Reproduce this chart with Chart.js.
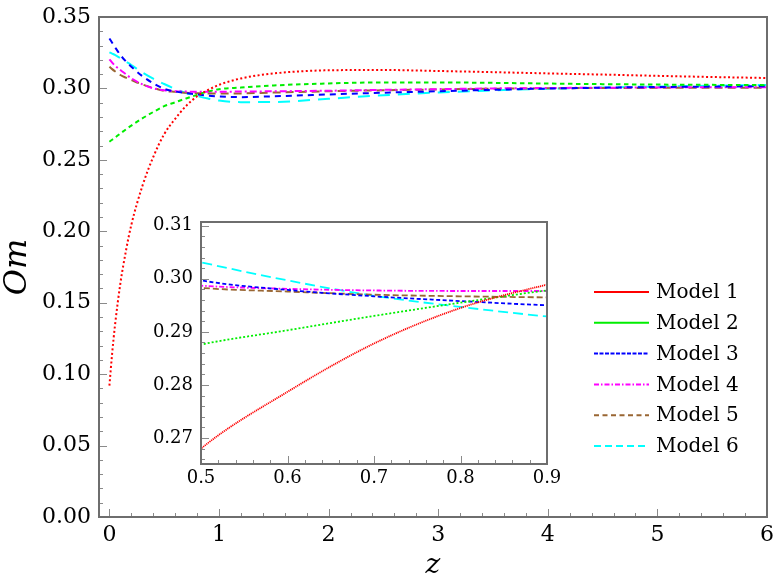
<!DOCTYPE html>
<html lang="en">
<head>
<meta charset="UTF-8">
<title>Om(z) diagnostic for six models</title>
<script src="https://cdn.jsdelivr.net/npm/chart.js"></script>
<style>
    body {
        margin: 0;
        background: #ffffff;
    }
    #wrap {
        position: relative;
        width: 782px;
        height: 580px;
    }
    #main {
        position: absolute;
        left: 0;
        top: 0;
    }
    #inset {
        position: absolute;
        left: 150px;
        top: 200px;
    }
</style>
</head>
<body>
<div id="wrap">
    <canvas id="main" width="782" height="580"></canvas>
    <canvas id="inset" width="410" height="300"></canvas>
</div>
<script>
// redshift samples shared by all models
const zValues = [0, 0.025, 0.05, 0.1, 0.15, 0.2, 0.3, 0.4, 0.5, 0.6, 0.7, 0.8, 0.9, 1.0, 1.2, 1.5, 2.0, 2.5, 3.0, 3.5, 4.0, 4.5, 5.0, 5.5, 6.0];

const model1 = [0.092, 0.1145, 0.1335, 0.1635, 0.186, 0.2045, 0.2315, 0.2520, 0.268, 0.2787, 0.2878, 0.2945, 0.2989, 0.3025, 0.3070, 0.3105, 0.3127, 0.3129, 0.3122, 0.3114, 0.3105, 0.3097, 0.3088, 0.3080, 0.3073];
const model2 = [0.2627, 0.2641, 0.2655, 0.2685, 0.2713, 0.2740, 0.2790, 0.2835, 0.2876, 0.2903, 0.2930, 0.2955, 0.2978, 0.2995, 0.3006, 0.3021, 0.3035, 0.3042, 0.3042, 0.3039, 0.3034, 0.3030, 0.3027, 0.3025, 0.3023];
const model3 = [0.3350, 0.3320, 0.3290, 0.3234, 0.3190, 0.3152, 0.3087, 0.3036, 0.2997, 0.2979, 0.2967, 0.2958, 0.2950, 0.2944, 0.2939, 0.2945, 0.2958, 0.2970, 0.2980, 0.2990, 0.2999, 0.3005, 0.3010, 0.3013, 0.3016];
const model4 = [0.3204, 0.3180, 0.3160, 0.3129, 0.3100, 0.3071, 0.3029, 0.3001, 0.2987, 0.2981, 0.2978, 0.2977, 0.2977, 0.2977, 0.2978, 0.2980, 0.2984, 0.2990, 0.2995, 0.3000, 0.3003, 0.3005, 0.3007, 0.3008, 0.3009];
const model5 = [0.3152, 0.3135, 0.3120, 0.3094, 0.3075, 0.3059, 0.3028, 0.3003, 0.2983, 0.2976, 0.2970, 0.2967, 0.2965, 0.2964, 0.2965, 0.2971, 0.2980, 0.2987, 0.2993, 0.2998, 0.3001, 0.3003, 0.3004, 0.3005, 0.3005];
const model6 = [0.3253, 0.3244, 0.3235, 0.3212, 0.3188, 0.3164, 0.3112, 0.3068, 0.3031, 0.2997, 0.2968, 0.2947, 0.2929, 0.2915, 0.2904, 0.2905, 0.2928, 0.2952, 0.2972, 0.2986, 0.2998, 0.3007, 0.3013, 0.3019, 0.3024];

const modelNames = ['Model 1', 'Model 2', 'Model 3', 'Model 4', 'Model 5', 'Model 6'];
const modelColors = ['#ff0000', '#00ee00', '#0000ff', '#ff00ff', '#996633', '#00ffff'];

const xTicks = [0, 1, 2, 3, 4, 5, 6];
const xTickLabels = ['0', '1', '2', '3', '4', '5', '6'];
const yTicks = [0, 0.05, 0.10, 0.15, 0.20, 0.25, 0.30, 0.35];
const yTickLabels = ['0.00', '0.05', '0.10', '0.15', '0.20', '0.25', '0.30', '0.35'];

const insetXTicks = [0.5, 0.6, 0.7, 0.8, 0.9];
const insetXTickLabels = ['0.5', '0.6', '0.7', '0.8', '0.9'];
const insetYTicks = [0.27, 0.28, 0.29, 0.30, 0.31];
const insetYTickLabels = ['0.27', '0.28', '0.29', '0.30', '0.31'];

// line styles (not data)
const mainDash = [[2, 2.4], [4.5, 3.5], [6, 5], [7, 3, 2, 3], [8, 5], [12, 8]];
const insetDash = [[1.2, 0.8], [2, 2], [4, 2.5], [5, 2, 1.5, 2], [6, 3], [10, 5]];
const legendDash = [[], [], [4, 1.5], [5, 2, 1.5, 2], [5, 3.5], [7, 4]];

const serif = "'DejaVu Serif', 'Liberation Serif', serif";

function makeDatasets(dashes, width) {
    const series = [model1, model2, model3, model4, model5, model6];
    return series.map((vals, i) => ({
        label: modelNames[i],
        data: vals.map((v, k) => ({ x: zValues[k], y: v })),
        borderColor: modelColors[i],
        borderWidth: width,
        borderDash: dashes[i],
        pointRadius: 0,
        cubicInterpolationMode: 'monotone',
        fill: false
    }));
}

function range(a, b, step) {
    const out = [];
    for (let v = a; v <= b + step / 2; v += step) out.push(+v.toFixed(4));
    return out;
}

// keep label overhang from moving the plot frame
function noLabelPadding(s) {
    s.paddingTop = 0;
    s.paddingBottom = 0;
    s.paddingLeft = 0;
    s.paddingRight = 0;
}

// frame + inward ticks on left and bottom, Mathematica style
const frameTicks = {
    id: 'frameTicks',
    afterDatasetsDraw(chart, args, opts) {
        const { ctx, chartArea: a, scales: { x, y } } = chart;
        ctx.save();
        ctx.setLineDash([]);
        ctx.strokeStyle = '#8a8a8a';
        ctx.lineWidth = 1;
        ctx.beginPath();
        opts.xMinor.forEach(v => {
            const px = Math.round(x.getPixelForValue(v)) + 0.5;
            ctx.moveTo(px, a.bottom);
            ctx.lineTo(px, a.bottom - 4);
        });
        opts.xMajor.forEach(v => {
            const px = Math.round(x.getPixelForValue(v)) + 0.5;
            ctx.moveTo(px, a.bottom);
            ctx.lineTo(px, a.bottom - 8);
        });
        opts.yMinor.forEach(v => {
            const py = Math.round(y.getPixelForValue(v)) + 0.5;
            ctx.moveTo(a.left, py);
            ctx.lineTo(a.left + 4, py);
        });
        opts.yMajor.forEach(v => {
            const py = Math.round(y.getPixelForValue(v)) + 0.5;
            ctx.moveTo(a.left, py);
            ctx.lineTo(a.left + 8, py);
        });
        ctx.stroke();
        ctx.strokeStyle = '#6e6e6e';
        ctx.lineWidth = 2;
        ctx.strokeRect(a.left, a.top, a.right - a.left, a.bottom - a.top);
        ctx.restore();
    }
};

// legend inside the main plot, right side
const sideLegend = {
    id: 'sideLegend',
    afterDraw(chart) {
        const ctx = chart.ctx;
        ctx.save();
        ctx.font = '20px ' + serif;
        ctx.textBaseline = 'middle';
        ctx.fillStyle = '#000';
        chart.data.datasets.forEach((ds, i) => {
            const yy = 292 + i * 30.8;
            ctx.strokeStyle = ds.borderColor;
            ctx.lineWidth = 2;
            ctx.setLineDash(legendDash[i]);
            ctx.beginPath();
            ctx.moveTo(594, yy);
            ctx.lineTo(649, yy);
            ctx.stroke();
            ctx.setLineDash([]);
            ctx.fillText(ds.label, 656, yy + 1);
        });
        ctx.restore();
    }
};

Chart.defaults.font.family = serif;
Chart.defaults.color = '#000';

new Chart(document.getElementById('main'), {
    type: 'line',
    data: { datasets: makeDatasets(mainDash, 2) },
    options: {
        responsive: false,
        animation: false,
        devicePixelRatio: 1,
        layout: { padding: { top: 17, right: 15, left: 0, bottom: 0 } },
        plugins: {
            legend: { display: false },
            tooltip: { enabled: false },
            frameTicks: {
                xMajor: xTicks, xMinor: range(0, 6, 0.2),
                yMajor: yTicks, yMinor: range(0, 0.35, 0.01)
            }
        },
        scales: {
            x: {
                type: 'linear',
                min: -0.095,
                max: 6,
                afterBuildTicks: s => { s.ticks = xTicks.map(v => ({ value: v })); },
                afterFit: s => { s.height = 63; noLabelPadding(s); },
                grid: { display: false, drawTicks: false },
                border: { display: false },
                ticks: {
                    padding: 5,
                    maxRotation: 0,
                    font: { size: 22 },
                    callback: (v, i) => xTickLabels[i]
                },
                title: {
                    display: true,
                    text: 'z',
                    font: { size: 28, style: 'italic', lineHeight: 1 },
                    padding: { top: 0, bottom: 0 }
                }
            },
            y: {
                type: 'linear',
                min: 0,
                max: 0.35,
                afterBuildTicks: s => { s.ticks = yTicks.map(v => ({ value: v })); },
                afterFit: s => { s.width = 99; noLabelPadding(s); },
                grid: { display: false, drawTicks: false },
                border: { display: false },
                ticks: {
                    padding: 8,
                    font: { size: 22 },
                    callback: (v, i) => yTickLabels[i]
                },
                title: {
                    display: true,
                    text: 'Om',
                    font: { size: 32, style: 'italic', lineHeight: 1 },
                    padding: { top: 2, bottom: 0 }
                }
            }
        }
    },
    plugins: [frameTicks, sideLegend]
});

new Chart(document.getElementById('inset'), {
    type: 'line',
    data: { datasets: makeDatasets(insetDash, 1.8) },
    options: {
        responsive: false,
        animation: false,
        devicePixelRatio: 1,
        layout: { padding: { top: 22, right: 13, left: 0, bottom: 0 } },
        plugins: {
            legend: { display: false },
            tooltip: { enabled: false },
            frameTicks: {
                xMajor: insetXTicks, xMinor: range(0.5, 0.9, 0.02),
                yMajor: insetYTicks, yMinor: range(0.266, 0.31, 0.002)
            }
        },
        scales: {
            x: {
                type: 'linear',
                min: 0.5,
                max: 0.9,
                afterBuildTicks: s => { s.ticks = insetXTicks.map(v => ({ value: v })); },
                afterFit: s => { s.height = 36; noLabelPadding(s); },
                grid: { display: false, drawTicks: false },
                border: { display: false },
                ticks: {
                    padding: 4,
                    maxRotation: 0,
                    font: { size: 18 },
                    callback: (v, i) => insetXTickLabels[i]
                }
            },
            y: {
                type: 'linear',
                min: 0.2651,
                max: 0.3107,
                afterBuildTicks: s => { s.ticks = insetYTicks.map(v => ({ value: v })); },
                afterFit: s => { s.width = 51; noLabelPadding(s); },
                grid: { display: false, drawTicks: false },
                border: { display: false },
                ticks: {
                    padding: 8,
                    font: { size: 18 },
                    callback: (v, i) => insetYTickLabels[i]
                }
            }
        }
    },
    plugins: [frameTicks]
});
</script>
</body>
</html>
